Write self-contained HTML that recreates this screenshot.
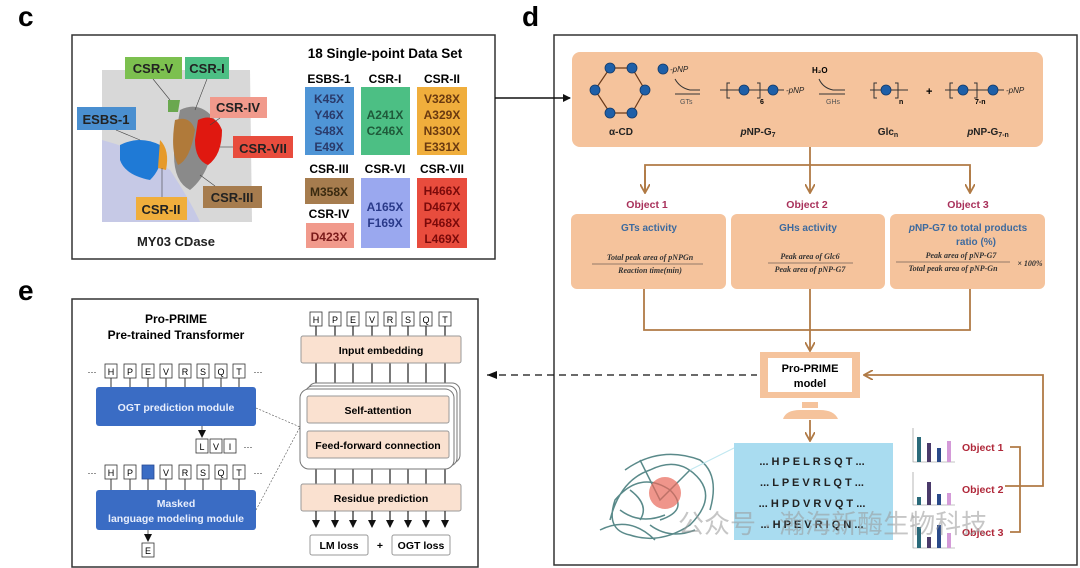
<!DOCTYPE html>
<html><head><meta charset="utf-8"><style>
body{margin:0;background:#fff;}
svg{display:block;font-family:"Liberation Sans","Noto Sans CJK SC",sans-serif;}
.b{font-weight:bold;}
</style></head><body>
<svg width="1080" height="568" viewBox="0 0 1080 568" xmlns="http://www.w3.org/2000/svg">
<defs>
<marker id="ab" markerWidth="8" markerHeight="8" refX="7" refY="4" orient="auto" markerUnits="userSpaceOnUse"><path d="M0,0 L8,4 L0,8 z" fill="#111"/></marker>
<marker id="ao" markerWidth="10" markerHeight="10" refX="8" refY="5" orient="auto" markerUnits="userSpaceOnUse"><path d="M0,0 L9,5 L0,10" fill="none" stroke="#b07a45" stroke-width="1.8"/></marker>
</defs>
<text x="18" y="26" font-size="28" class="b">c</text>
<text x="522" y="26" font-size="28" class="b">d</text>
<text x="18" y="300" font-size="28" class="b">e</text>

<!-- ===== Panel c ===== -->
<rect x="72" y="35" width="423" height="224" fill="#fff" stroke="#333" stroke-width="1.5"/>
<path d="M102,70 L250,70 L252,222 L102,222 Z" fill="#d8d8d8"/>
<path d="M102,140 Q140,150 170,170 Q190,200 200,222 L102,222 Z" fill="#c6c9e6"/>
<path d="M180,110 Q200,100 215,120 Q215,170 190,190 Q170,180 175,140 Z" fill="#8a8a8a"/>
<path d="M120,145 Q140,135 160,145 Q165,165 150,180 Q125,175 120,160 Z" fill="#1f7ad6"/>
<path d="M160,140 Q170,150 166,170 L158,168 Z" fill="#e69a2a"/>
<path d="M175,120 Q190,115 195,130 Q190,160 178,165 Q170,150 175,120 Z" fill="#b07a3a"/>
<path d="M198,120 Q215,112 222,130 Q222,155 208,165 Q195,160 195,140 Z" fill="#e01810"/>
<path d="M168,100 L180,100 L178,112 L168,112 Z" fill="#6aa84f"/>
<g font-size="13" class="b" fill="#222" text-anchor="middle">
<rect x="125" y="57" width="57" height="22" fill="#7cc04f"/><text x="153" y="73">CSR-V</text>
<rect x="185" y="57" width="44" height="22" fill="#4cbf84"/><text x="207" y="73">CSR-I</text>
<rect x="210" y="97" width="57" height="21" fill="#f19a8c"/><text x="238" y="112">CSR-IV</text>
<rect x="77" y="107" width="59" height="23" fill="#4a8fd0"/><text x="106" y="124">ESBS-1</text>
<rect x="233" y="136" width="60" height="22" fill="#e84c3d"/><text x="263" y="153">CSR-VII</text>
<rect x="203" y="186" width="59" height="22" fill="#a67c4e"/><text x="232" y="202">CSR-III</text>
<rect x="136" y="197" width="51" height="23" fill="#f0ae3c"/><text x="161" y="214">CSR-II</text>
<text x="176" y="246">MY03 CDase</text>
</g>
<g stroke="#444" stroke-width="0.6"><line x1="116" y1="130" x2="140" y2="140"/><line x1="162" y1="197" x2="162" y2="168"/><line x1="153" y1="79" x2="170" y2="100"/><line x1="207" y1="79" x2="195" y2="110"/><line x1="220" y1="118" x2="210" y2="125"/><line x1="233" y1="147" x2="220" y2="147"/><line x1="215" y1="186" x2="200" y2="175"/></g>
<text x="385" y="58" font-size="13.5" class="b" text-anchor="middle">18 Single-point Data Set</text>
<g font-size="12" class="b" text-anchor="middle">
<text x="329" y="83">ESBS-1</text><text x="385" y="83">CSR-I</text><text x="442" y="83">CSR-II</text>
<rect x="305" y="87" width="49" height="68" fill="#4f95d6"/>
<rect x="361" y="87" width="49" height="68" fill="#4cbf84"/>
<rect x="417" y="87" width="50" height="68" fill="#f0ae3c"/>
<g fill="#2a3a6a"><text x="329" y="103">K45X</text><text x="329" y="119">Y46X</text><text x="329" y="135">S48X</text><text x="329" y="151">E49X</text></g>
<g fill="#1f5a3a"><text x="385" y="119">A241X</text><text x="385" y="135">C246X</text></g>
<g fill="#6a3a10"><text x="442" y="103">V328X</text><text x="442" y="119">A329X</text><text x="442" y="135">N330X</text><text x="442" y="151">E331X</text></g>
<text x="329" y="173">CSR-III</text><text x="385" y="173">CSR-VI</text><text x="442" y="173">CSR-VII</text>
<rect x="305" y="178" width="49" height="26" fill="#a67c4e"/><text x="329" y="196" fill="#3a2a10">M358X</text>
<text x="329" y="218">CSR-IV</text>
<rect x="306" y="223" width="48" height="25" fill="#f19a8c"/><text x="329" y="241" fill="#7a1a1a">D423X</text>
<rect x="361" y="178" width="49" height="70" fill="#9aa8ef"/><text x="385" y="211" fill="#2a3a8a">A165X</text><text x="385" y="227" fill="#2a3a8a">F169X</text>
<rect x="417" y="178" width="50" height="70" fill="#e84c3d"/>
<g fill="#7a0a0a"><text x="442" y="195">H466X</text><text x="442" y="211">D467X</text><text x="442" y="227">P468X</text><text x="442" y="243">L469X</text></g>
</g>

<!-- ===== Panel d ===== -->
<rect x="554" y="35" width="523" height="530" fill="#fff" stroke="#333" stroke-width="1.5"/>
<line x1="495" y1="98" x2="570" y2="98" stroke="#111" stroke-width="1.5" marker-end="url(#ab)"/>
<rect x="572" y="52" width="471" height="95" rx="8" fill="#f5c39c"/>
<g stroke="#6a3a1a" stroke-width="1.2" fill="none">
<path d="M610,68 L632,68 L645,90 L632,113 L610,113 L595,90 Z"/>
</g>
<g fill="#1e5fa8" stroke="#123a6a" stroke-width="0.8">
<circle cx="610" cy="68" r="5"/><circle cx="632" cy="68" r="5"/><circle cx="595" cy="90" r="5"/><circle cx="645" cy="90" r="5"/><circle cx="610" cy="113" r="5"/><circle cx="632" cy="113" r="5"/>
<circle cx="663" cy="69" r="5"/><circle cx="744" cy="90" r="5"/><circle cx="773" cy="90" r="5"/><circle cx="886" cy="90" r="5"/><circle cx="963" cy="90" r="5"/><circle cx="993" cy="90" r="5"/>
</g>
<g stroke="#333" stroke-width="1" fill="none">
<path d="M720,90 L740,90 M749,90 L768,90 M778,90 L784,90"/>
<path d="M730,83 L727,83 L727,98 L730,98 M757,83 L760,83 L760,98 L757,98"/>
<path d="M870,90 L881,90 M891,90 L908,90"/><path d="M877,83 L874,83 L874,98 L877,98 M895,83 L898,83 L898,98 L895,98"/>
<path d="M945,90 L958,90 M968,90 L988,90 M998,90 L1004,90"/><path d="M953,83 L950,83 L950,98 L953,98 M974,83 L977,83 L977,98 L974,98"/>
<path d="M675,79 Q680,88 690,90 L700,90 M675,94 L700,94"/><path d="M819,79 Q823,88 833,90 L845,90 M819,94 L845,94"/>
</g>
<g font-size="8" font-style="italic" fill="#222"><text x="670" y="72">-pNP</text><text x="786" y="93">-pNP</text><text x="1006" y="93">-pNP</text></g>
<g font-size="7" fill="#555"><text x="680" y="104">GTs</text><text x="826" y="104">GHs</text></g>
<text x="812" y="73" font-size="8" class="b">H₂O</text>
<g font-size="7" class="b"><text x="760" y="104">6</text><text x="899" y="104">n</text><text x="975" y="104">7-n</text></g>
<text x="926" y="95" font-size="11" class="b">+</text>
<g font-size="10" class="b" text-anchor="middle" fill="#222"><text x="621" y="135">α-CD</text><text x="758" y="135"><tspan font-style="italic">p</tspan>NP-G<tspan font-size="7" dy="2">7</tspan></text><text x="888" y="135">Glc<tspan font-size="7" dy="2">n</tspan></text><text x="988" y="135"><tspan font-style="italic">p</tspan>NP-G<tspan font-size="7" dy="2">7-n</tspan></text></g>
<g stroke="#b07a45" stroke-width="1.8" fill="none">
<line x1="810" y1="147" x2="810" y2="192" marker-end="url(#ao)"/>
<path d="M645,192 L645,165 L970,165 L970,192"/>
<line x1="645" y1="170" x2="645" y2="192" marker-end="url(#ao)"/>
<line x1="970" y1="170" x2="970" y2="192" marker-end="url(#ao)"/>
<path d="M644,289 L644,330 L970,330 L970,289 M810,289 L810,330"/>
<line x1="810" y1="330" x2="810" y2="350" marker-end="url(#ao)"/>
<line x1="810" y1="420" x2="810" y2="440" marker-end="url(#ao)"/>
<path d="M1005,486 L1043,486 L1043,375 L865,375" marker-end="url(#ao)"/>
<path d="M1010,447 L1020,447 L1020,532 L1010,532"/>
</g>
<g font-size="10.5" class="b" fill="#a8305a" text-anchor="middle"><text x="647" y="208">Object 1</text><text x="807" y="208">Object 2</text><text x="968" y="208">Object 3</text></g>
<rect x="571" y="214" width="155" height="75" rx="6" fill="#f5c39c"/>
<rect x="731" y="214" width="154" height="75" rx="6" fill="#f5c39c"/>
<rect x="890" y="214" width="155" height="75" rx="6" fill="#f5c39c"/>
<g font-size="10" class="b" fill="#3d6a9e" text-anchor="middle"><text x="649" y="231">GTs activity</text><text x="808" y="231">GHs activity</text><text x="968" y="231"><tspan font-style="italic">p</tspan>NP-G7 to total products</text><text x="976" y="245">ratio (%)</text></g>
<g font-family="Liberation Serif,serif" font-size="8" font-weight="bold" font-style="italic" fill="#333" text-anchor="middle">
<text x="650" y="260">Total peak area of pNPGn</text><line x1="592" y1="264" x2="703" y2="264" stroke="#333" stroke-width="0.6"/><text x="650" y="273">Reaction time(min)</text>
<text x="810" y="259">Peak area of Glc6</text><line x1="768" y1="263" x2="853" y2="263" stroke="#333" stroke-width="0.6"/><text x="810" y="272">Peak area of pNP-G7</text>
<text x="961" y="258">Peak area of pNP-G7</text><line x1="896" y1="262" x2="1010" y2="262" stroke="#333" stroke-width="0.6"/><text x="953" y="271">Total peak area of pNP-Gn</text><text x="1030" y="266">× 100%</text>
</g>
<rect x="760" y="352" width="100" height="46" fill="#f5c39c"/>
<rect x="768" y="358" width="84" height="34" fill="#fff"/>
<rect x="802" y="402" width="16" height="6" fill="#f5c39c"/>
<path d="M783,419 Q786,410 800,410 L820,410 Q834,410 838,419 Z" fill="#f5c39c"/>
<g font-size="11" class="b" text-anchor="middle"><text x="810" y="372">Pro-PRIME</text><text x="810" y="387">model</text></g>
<line x1="487" y1="375" x2="757" y2="375" stroke="#111" stroke-width="1.3" stroke-dasharray="7,5"/>
<path d="M497,371 L487,375 L497,379" fill="#111"/>
<g fill="none" stroke="#5a8a8a" stroke-width="1.5">
<path d="M610,520 Q620,480 650,470 Q680,455 700,480 Q715,500 690,525 Q660,545 630,535 Q605,530 615,500 Q640,470 670,490 Q690,510 660,520"/>
<path d="M625,470 Q660,445 700,460 Q720,475 710,510 M600,530 Q630,515 655,540 M640,460 L660,500 L690,470"/>
<path d="M620,510 Q640,525 665,515 M650,525 Q670,540 695,530 M630,490 Q650,505 640,520"/>
</g>
<circle cx="665" cy="493" r="16" fill="#e8685a" opacity="0.7"/>
<path d="M690,470 L734,448" stroke="#bfe8f0" stroke-width="1"/>
<rect x="734" y="443" width="159" height="97" fill="#a9dcf0"/>
<g font-size="11" class="b" text-anchor="middle" fill="#222"><text x="812" y="465">... H P E L R S Q T ...</text><text x="812" y="486">... L P E V R L Q T ...</text><text x="812" y="507">... H P D V R V Q T ...</text><text x="812" y="528">... H P E V R I Q N ...</text></g>
<g stroke="#888" stroke-width="0.6" fill="none"><path d="M913,428 L913,462 L955,462"/><path d="M913,472 L913,505 L955,505"/><path d="M913,515 L913,548 L955,548"/></g>
<g>
<rect x="917" y="437" width="4" height="25" fill="#2a6a7a"/><rect x="927" y="443" width="4" height="19" fill="#4a3a6a"/><rect x="937" y="448" width="4" height="14" fill="#2a4a8a"/><rect x="947" y="441" width="4" height="21" fill="#d49ad8"/>
<rect x="917" y="497" width="4" height="8" fill="#2a6a7a"/><rect x="927" y="482" width="4" height="23" fill="#4a3a6a"/><rect x="937" y="494" width="4" height="11" fill="#2a4a8a"/><rect x="947" y="493" width="4" height="12" fill="#d49ad8"/>
<rect x="917" y="527" width="4" height="21" fill="#2a6a7a"/><rect x="927" y="537" width="4" height="11" fill="#4a3a6a"/><rect x="937" y="525" width="4" height="23" fill="#2a4a8a"/><rect x="947" y="533" width="4" height="15" fill="#d49ad8"/>
</g>
<g font-size="10.5" class="b" fill="#b0283a"><text x="962" y="451">Object 1</text><text x="962" y="493">Object 2</text><text x="962" y="536">Object 3</text></g>
<text x="678" y="533" font-size="26" fill="#999" opacity="0.55">公众号 · 瀚海新酶生物科技</text>

<!-- ===== Panel e ===== -->
<rect x="72" y="299" width="406" height="268" fill="#fff" stroke="#333" stroke-width="1.5"/>
<g font-size="12" class="b" text-anchor="middle"><text x="176" y="323">Pro-PRIME</text><text x="176" y="339">Pre-trained Transformer</text></g>
<g font-size="9" text-anchor="middle" stroke-width="0.8">
<rect x="105" y="364" width="12" height="14" fill="#fff" stroke="#333"/><text x="111" y="375">H</text>
<rect x="124" y="364" width="12" height="14" fill="#fff" stroke="#333"/><text x="130" y="375">P</text>
<rect x="142" y="364" width="12" height="14" fill="#fff" stroke="#333"/><text x="148" y="375">E</text>
<rect x="160" y="364" width="12" height="14" fill="#fff" stroke="#333"/><text x="166" y="375">V</text>
<rect x="179" y="364" width="12" height="14" fill="#fff" stroke="#333"/><text x="185" y="375">R</text>
<rect x="197" y="364" width="12" height="14" fill="#fff" stroke="#333"/><text x="203" y="375">S</text>
<rect x="215" y="364" width="12" height="14" fill="#fff" stroke="#333"/><text x="221" y="375">Q</text>
<rect x="233" y="364" width="12" height="14" fill="#fff" stroke="#333"/><text x="239" y="375">T</text>
<text x="92" y="375">···</text><text x="258" y="375">···</text>
<g stroke="#333" stroke-width="1"><path d="M111,378V387M130,378V387M148,378V387M166,378V387M185,378V387M203,378V387M221,378V387M239,378V387"/></g>
<rect x="96" y="387" width="160" height="39" rx="3" fill="#3a6cc4"/>
<text x="176" y="411" font-size="10.5" class="b" fill="#e8eefc">OGT prediction module</text>
<line x1="202" y1="426" x2="202" y2="437" stroke="#333" marker-end="url(#ab)"/>
<rect x="196" y="439" width="12" height="14" fill="#fff" stroke="#333"/><text x="202" y="450">L</text>
<rect x="210" y="439" width="12" height="14" fill="#fff" stroke="#333"/><text x="216" y="450">V</text>
<rect x="224" y="439" width="12" height="14" fill="#fff" stroke="#333"/><text x="230" y="450">I</text><text x="248" y="450">···</text>
<rect x="105" y="465" width="12" height="14" fill="#fff" stroke="#333"/><text x="111" y="476">H</text>
<rect x="124" y="465" width="12" height="14" fill="#fff" stroke="#333"/><text x="130" y="476">P</text>
<rect x="142" y="465" width="12" height="14" fill="#3a6cc4" stroke="#2a4c94"/>
<rect x="160" y="465" width="12" height="14" fill="#fff" stroke="#333"/><text x="166" y="476">V</text>
<rect x="179" y="465" width="12" height="14" fill="#fff" stroke="#333"/><text x="185" y="476">R</text>
<rect x="197" y="465" width="12" height="14" fill="#fff" stroke="#333"/><text x="203" y="476">S</text>
<rect x="215" y="465" width="12" height="14" fill="#fff" stroke="#333"/><text x="221" y="476">Q</text>
<rect x="233" y="465" width="12" height="14" fill="#fff" stroke="#333"/><text x="239" y="476">T</text>
<text x="92" y="476">···</text><text x="258" y="476">···</text>
<g stroke="#333" stroke-width="1"><path d="M111,479V490M130,479V490M148,479V490M166,479V490M185,479V490M203,479V490M221,479V490M239,479V490"/></g>
<rect x="96" y="490" width="160" height="40" rx="3" fill="#3a6cc4"/>
<text x="176" y="507" font-size="10.5" class="b" fill="#e8eefc">Masked</text>
<text x="176" y="522" font-size="10.5" class="b" fill="#e8eefc">language modeling module</text>
<line x1="148" y1="530" x2="148" y2="541" stroke="#333" marker-end="url(#ab)"/>
<rect x="142" y="543" width="12" height="14" fill="#fff" stroke="#333"/><text x="148" y="554">E</text>
<rect x="310" y="312" width="12" height="14" fill="#fff" stroke="#333"/><text x="316" y="323">H</text>
<rect x="329" y="312" width="12" height="14" fill="#fff" stroke="#333"/><text x="335" y="323">P</text>
<rect x="347" y="312" width="12" height="14" fill="#fff" stroke="#333"/><text x="353" y="323">E</text>
<rect x="366" y="312" width="12" height="14" fill="#fff" stroke="#333"/><text x="372" y="323">V</text>
<rect x="384" y="312" width="12" height="14" fill="#fff" stroke="#333"/><text x="390" y="323">R</text>
<rect x="402" y="312" width="12" height="14" fill="#fff" stroke="#333"/><text x="408" y="323">S</text>
<rect x="420" y="312" width="12" height="14" fill="#fff" stroke="#333"/><text x="426" y="323">Q</text>
<rect x="439" y="312" width="12" height="14" fill="#fff" stroke="#333"/><text x="445" y="323">T</text>
</g>
<g stroke="#222" stroke-width="1.2"><path d="M316,326V484M335,326V484M353,326V484M372,326V484M390,326V484M408,326V484M426,326V484M445,326V484"/></g>
<rect x="301" y="336" width="160" height="27" rx="2" fill="#fae1d0" stroke="#999"/>
<text x="381" y="354" font-size="10.5" class="b" text-anchor="middle">Input embedding</text>
<rect x="308" y="383" width="152" height="80" rx="8" fill="#fff" stroke="#777"/>
<rect x="305" y="386" width="152" height="80" rx="8" fill="#fff" stroke="#777"/>
<rect x="300" y="389" width="154" height="80" rx="9" fill="#fff" stroke="#777"/>
<rect x="307" y="396" width="142" height="27" rx="2" fill="#fae1d0" stroke="#999"/>
<text x="378" y="414" font-size="10.5" class="b" text-anchor="middle">Self-attention</text>
<rect x="307" y="431" width="142" height="27" rx="2" fill="#fae1d0" stroke="#999"/>
<text x="378" y="449" font-size="10.5" class="b" text-anchor="middle">Feed-forward connection</text>
<rect x="301" y="484" width="160" height="27" rx="2" fill="#fae1d0" stroke="#999"/>
<text x="381" y="502" font-size="10.5" class="b" text-anchor="middle">Residue prediction</text>
<g stroke="#222" stroke-width="1.2">
<line x1="316" y1="511" x2="316" y2="527" marker-end="url(#ab)"/><line x1="335" y1="511" x2="335" y2="527" marker-end="url(#ab)"/><line x1="353" y1="511" x2="353" y2="527" marker-end="url(#ab)"/><line x1="372" y1="511" x2="372" y2="527" marker-end="url(#ab)"/><line x1="390" y1="511" x2="390" y2="527" marker-end="url(#ab)"/><line x1="408" y1="511" x2="408" y2="527" marker-end="url(#ab)"/><line x1="426" y1="511" x2="426" y2="527" marker-end="url(#ab)"/><line x1="445" y1="511" x2="445" y2="527" marker-end="url(#ab)"/>
</g>
<rect x="310" y="535" width="58" height="20" rx="2" fill="#fff" stroke="#999"/>
<rect x="392" y="535" width="58" height="20" rx="2" fill="#fff" stroke="#999"/>
<g font-size="10.5" class="b" text-anchor="middle"><text x="339" y="549">LM loss</text><text x="380" y="549">+</text><text x="421" y="549">OGT loss</text></g>
<g stroke="#555" stroke-width="0.6" stroke-dasharray="2,1.5"><line x1="256" y1="408" x2="300" y2="427"/><line x1="256" y1="510" x2="300" y2="427"/></g>
</svg>
</body></html>
